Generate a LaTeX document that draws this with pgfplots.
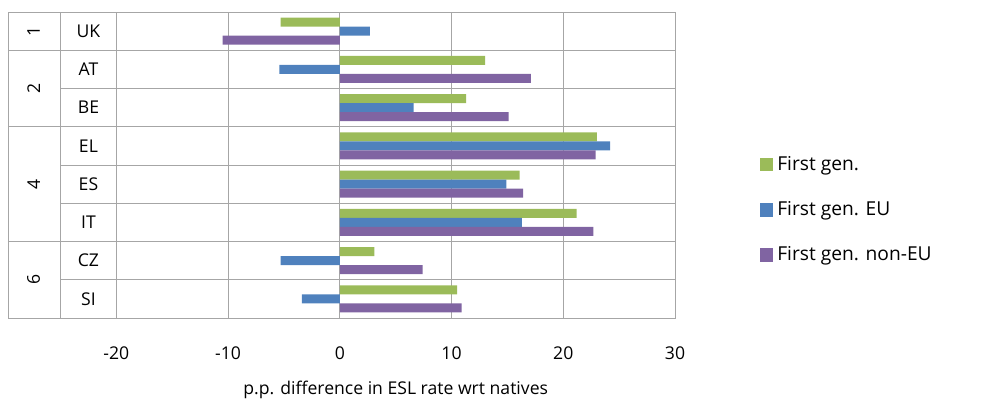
\documentclass[border=0pt]{standalone}
\usepackage{pgfplots}
\pgfplotsset{compat=1.18}
\usepackage{fontspec}
\setmainfont{Open Sans}
\definecolor{cg}{HTML}{9BBB59}
\definecolor{cb}{HTML}{4F81BD}
\definecolor{cp}{HTML}{8064A2}
\begin{document}
\begin{tikzpicture}[font=\fontsize{8.8}{10}\selectfont]
\useasboundingbox (-4pt,-41pt) rectangle (493pt,159pt);
\begin{axis}[at={(0,0)},anchor=south west,scale only axis,width=333.5pt,height=153pt,
  xmin=-29.7,xmax=30,ymin=0,ymax=8,y dir=reverse,
  axis line style={draw=none},
  xtick={-20,-10,0,10,20,30},ytick=\empty,major tick length=0pt,
  xticklabel style={yshift=-11pt},
  /pgf/number format/assume math mode=true,
  xlabel={p.p. difference in ESL rate wrt natives},
  xlabel style={at={(axis cs:5,8)},anchor=north,yshift=-28pt},
  xbar,bar width=4.5pt,
  legend style={at={(1.118,0.353)},anchor=west,draw=none,row sep=10pt,font=\fontsize{9.6}{11}\selectfont},
  legend cell align=left,
  legend image code/.code={\fill[#1] (0pt,-3.3pt) rectangle (6.6pt,3.3pt);},
  clip=false]
\draw[gray!70] (axis cs:-29.7,0) rectangle (axis cs:30,8);
\pgfplotsinvokeforeach{-25,-20,-10,0,10,20}{\draw[gray!70] (axis cs:#1,0) -- (axis cs:#1,8);}
\pgfplotsinvokeforeach{2,4,5,7}{\draw[gray!70] (axis cs:-25,#1) -- (axis cs:30,#1);}
\pgfplotsinvokeforeach{1,3,6}{\draw[gray!70] (axis cs:-29.7,#1) -- (axis cs:30,#1);}
\node[rotate=90] at (axis cs:-27.4,0.5) {1};
\node[rotate=90] at (axis cs:-27.4,2) {2};
\node[rotate=90] at (axis cs:-27.4,4.5) {4};
\node[rotate=90] at (axis cs:-27.4,7) {6};
\node at (axis cs:-22.5,0.5) {UK};
\node at (axis cs:-22.5,1.5) {AT};
\node at (axis cs:-22.5,2.5) {BE};
\node at (axis cs:-22.5,3.5) {EL};
\node at (axis cs:-22.5,4.5) {ES};
\node at (axis cs:-22.5,5.5) {IT};
\node at (axis cs:-22.5,6.5) {CZ};
\node at (axis cs:-22.5,7.5) {SI};
\addplot[fill=cg,draw=none,bar shift=4.5pt] coordinates {(-5.3,0.5)(13,1.5)(11.3,2.5)(23,3.5)(16.1,4.5)(21.2,5.5)(3.1,6.5)(10.5,7.5)};
\addplot[fill=cb,draw=none,bar shift=0pt] coordinates {(2.7,0.5)(-5.4,1.5)(6.6,2.5)(24.2,3.5)(14.9,4.5)(16.3,5.5)(-5.3,6.5)(-3.4,7.5)};
\addplot[fill=cp,draw=none,bar shift=-4.5pt] coordinates {(-10.5,0.5)(17.1,1.5)(15.1,2.5)(22.9,3.5)(16.4,4.5)(22.7,5.5)(7.4,6.5)(10.9,7.5)};
\legend{First gen.,First gen. EU,First gen. non-EU}
\end{axis}
\end{tikzpicture}
\end{document}
